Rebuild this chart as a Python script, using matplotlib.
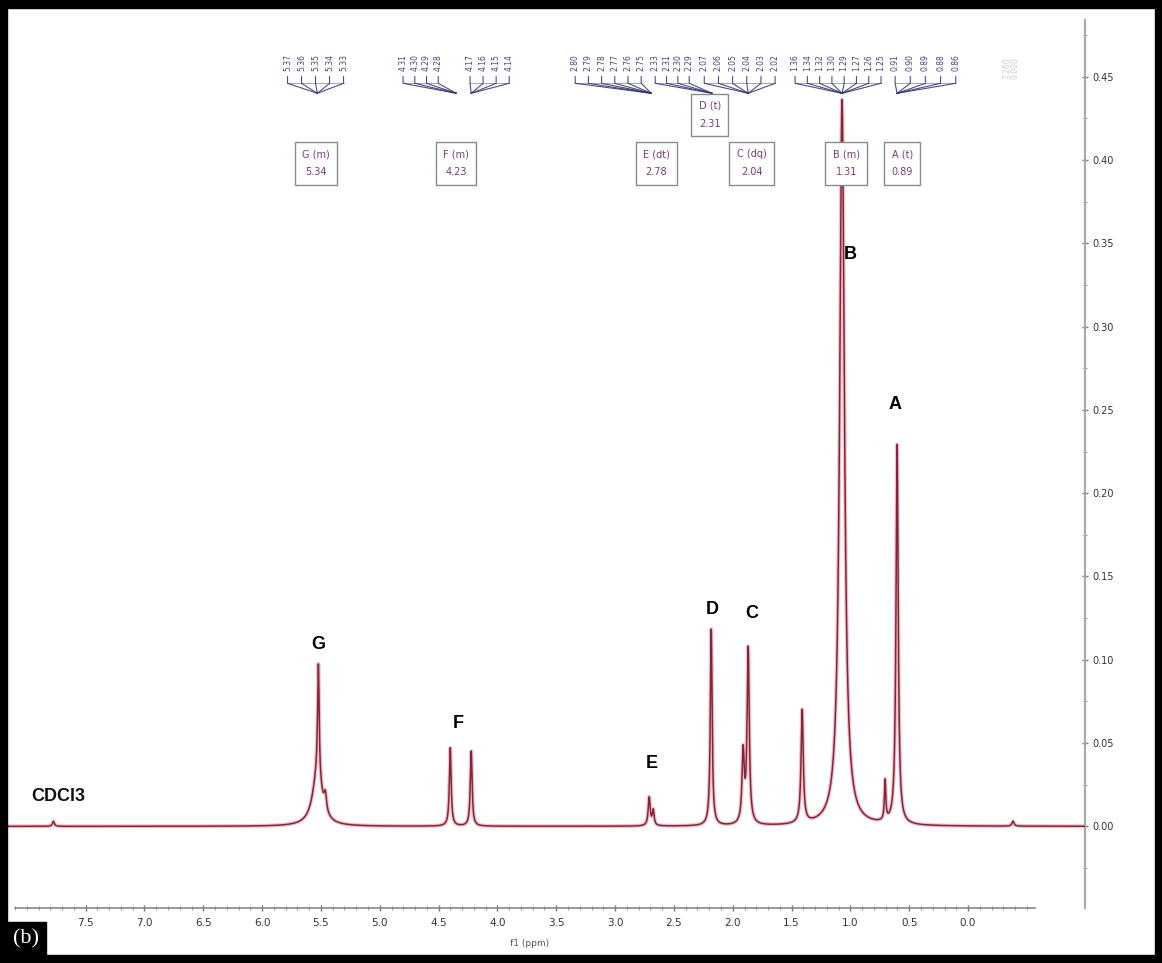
import numpy as np
import matplotlib
matplotlib.use("Agg")
import matplotlib.pyplot as plt
from matplotlib.patches import Rectangle
from matplotlib.ticker import MultipleLocator, FixedLocator, FormatStrFormatter

# ---------------- data (chemical shift axis as drawn, intensity) ----------------
peak_pos = [7.774, 5.531, 5.522, 5.463, 4.401, 4.223, 2.710, 2.676, 2.183,
            1.912, 1.869, 1.410, 1.071, 0.705, 0.603, -0.382]
peak_height = [0.003, 0.030, 0.068, 0.010, 0.047, 0.045, 0.017, 0.009, 0.118,
               0.042, 0.105, 0.068, 0.436, 0.024, 0.228, 0.003]
peak_hwhm = [0.010, 0.050, 0.008, 0.012, 0.009, 0.009, 0.010, 0.009, 0.009,
             0.011, 0.011, 0.011, 0.024, 0.007, 0.011, 0.010]

peak_letters = ["G", "F", "E", "D", "C", "B", "A"]
letter_x = [5.522, 4.333, 2.685, 2.175, 1.835, 1.003, 0.620]
letter_y = [0.109, 0.062, 0.038, 0.130, 0.128, 0.343, 0.253]

box_texts = ["G (m)\n5.34", "F (m)\n4.23", "E (dt)\n2.78", "D (t)\n2.31",
             "C (dq)\n2.04", "B (m)\n1.31", "A (t)\n0.89"]
box_x = [5.540, 4.350, 2.650, 2.195, 1.840, 1.035, 0.560]
box_y = [0.398, 0.398, 0.398, 0.427, 0.398, 0.398, 0.398]

# multiplet peak-pick label groups: (labels, left, right, convergence)
grp_labels = [
    ["5.37", "5.36", "5.35", "5.34", "5.33"],
    ["4.31", "4.30", "4.29", "4.28"],
    ["4.17", "4.16", "4.15", "4.14"],
    ["2.80", "2.79", "2.78", "2.77", "2.76", "2.75"],
    ["2.33", "2.31", "2.30", "2.29"],
    ["2.07", "2.06", "2.05", "2.04", "2.03", "2.02"],
    ["1.36", "1.34", "1.32", "1.30", "1.29", "1.27", "1.26", "1.25"],
    ["0.91", "0.90", "0.89", "0.88", "0.86"],
]
grp_left = [5.784, 4.802, 4.233, 3.339, 2.659, 2.242, 1.470, 0.620]
grp_right = [5.308, 4.503, 3.900, 2.778, 2.370, 1.640, 0.740, 0.105]
grp_conv = [5.531, 4.350, 4.223, 2.693, 2.175, 1.869, 1.071, 0.603]

x_ticks = [7.5, 7.0, 6.5, 6.0, 5.5, 5.0, 4.5, 4.0, 3.5, 3.0, 2.5, 2.0, 1.5, 1.0, 0.5, 0.0]
y_ticks = [0.00, 0.05, 0.10, 0.15, 0.20, 0.25, 0.30, 0.35, 0.40, 0.45]

# ---------------- figure ----------------
W, H = 1162, 963
fig = plt.figure(figsize=(W / 100, H / 100), dpi=100)
fig.patch.set_facecolor("white")

ax_l, ax_r, ax_t, ax_b = 8, 1085, 20, 908
ax = fig.add_axes([ax_l / W, (H - ax_b) / H, (ax_r - ax_l) / W, (ax_b - ax_t) / H])
ax.set_xlim(8.16, -0.994)
ax.set_ylim(-0.049, 0.484)

# spectrum from Lorentzian lines
x = np.linspace(8.16, -0.994, 30000)
y = np.zeros_like(x)
for p, h, w in zip(peak_pos, peak_height, peak_hwhm):
    y += h / (1.0 + ((x - p) / w) ** 2)
ax.plot(x, y, color="#efc0c6", lw=2.8, solid_capstyle="round", zorder=2)
ax.plot(x, y, color="#84263a", lw=1.1, zorder=3)

# peak letters
for t, lx, ly in zip(peak_letters, letter_x, letter_y):
    ax.text(lx, ly, t, ha="center", va="center", fontsize=13, fontweight="bold",
            family="Liberation Sans", color="black", zorder=5)
ax.text(7.73, 0.018, "CDCl3", ha="center", va="center", fontsize=13,
        fontweight="bold", family="Liberation Sans", color="#111111")

# integration boxes
for t, bx, by in zip(box_texts, box_x, box_y):
    ax.text(bx, by, t, ha="center", va="center", fontsize=7, color="#7a3c78",
            linespacing=2.0, family="DejaVu Sans",
            bbox=dict(boxstyle="square,pad=0.75", fc="white", ec="#8a8a8a", lw=1.0),
            zorder=6)

# multiplet peak-pick labels and brackets
lab_top, lab_bot, fan_y, conv_y = 0.466, 0.451, 0.446, 0.440
for labs, lft, rgt, cv in zip(grp_labels, grp_left, grp_right, grp_conv):
    n = len(labs)
    xs = np.linspace(lft, rgt, n) if n > 1 else np.array([lft])
    for lx, s in zip(xs, labs):
        ax.text(lx, (lab_top + lab_bot) / 2, s, rotation=90, ha="center", va="center",
                fontsize=5.5, color="#45457a", family="DejaVu Sans")
        ax.plot([lx, lx, cv], [lab_bot - 0.001, fan_y, conv_y], color="#2e2e6e",
                lw=0.8, alpha=0.85, zorder=4)
    ax.plot([xs[0], xs[-1]], [fan_y, fan_y], color="#2e2e6e", lw=0.6, alpha=0.5)

# faint reference labels at far right
ax.text(-0.33, 0.455, "7.260", rotation=90, ha="center", va="center", fontsize=5.5,
        color="#999999", alpha=0.5)
ax.text(-0.40, 0.455, "0.000", rotation=90, ha="center", va="center", fontsize=5.5,
        color="#999999", alpha=0.5)

# axes styling
for s in ["left", "top"]:
    ax.spines[s].set_visible(False)
ax.spines["right"].set_color("#aaaaaa")
ax.spines["right"].set_linewidth(1.6)
ax.spines["bottom"].set_color("#888888")
ax.spines["bottom"].set_linewidth(1.2)
ax.spines["bottom"].set_bounds(8.10, -0.57)
ax.spines["right"].set_bounds(-0.049, 0.484)

ax.yaxis.tick_right()
ax.set_xticks(x_ticks)
ax.xaxis.set_minor_locator(FixedLocator(np.round(np.arange(-0.5, 8.11, 0.1), 2)))
ax.set_yticks(y_ticks)
ax.yaxis.set_minor_locator(MultipleLocator(0.025))
ax.xaxis.set_major_formatter(FormatStrFormatter("%.1f"))
ax.yaxis.set_major_formatter(FormatStrFormatter("%.2f"))
ax.tick_params(axis="x", which="major", direction="inout", length=5, width=1,
               color="#777777", labelsize=7.5, labelcolor="#333333", pad=5)
ax.tick_params(axis="x", which="minor", direction="inout", length=3, width=0.7,
               color="#999999")
ax.tick_params(axis="y", which="major", direction="inout", length=5, width=1,
               color="#777777", labelsize=7, labelcolor="#333333", pad=3)
ax.tick_params(axis="y", which="minor", direction="inout", length=3, width=0.7,
               color="#999999")
ax.set_facecolor("white")
fig.text(530 / W, (H - 943) / H, "f1 (ppm)", ha="center", va="center",
         fontsize=6.5, color="#555555")

# black outer frame
fk = dict(transform=fig.transFigure, color="black", zorder=10)
fig.patches.append(Rectangle((0, 0), 7 / W, 1, **fk))
fig.patches.append(Rectangle((1 - 7 / W, 0), 7 / W, 1, **fk))
fig.patches.append(Rectangle((0, 1 - 8 / H), 1, 8 / H, **fk))
fig.patches.append(Rectangle((0, 0), 1, 8 / H, **fk))

# (b) tag
fig.patches.append(Rectangle((7 / W, 8 / H), 39 / W, 33 / H, transform=fig.transFigure,
                             color="black", zorder=10))
fig.text(26 / W, 24 / H, "(b)", color="white", fontsize=16, family="Liberation Serif",
         ha="center", va="center", zorder=11)

fig.savefig("out.png", dpi=100, facecolor="white")
